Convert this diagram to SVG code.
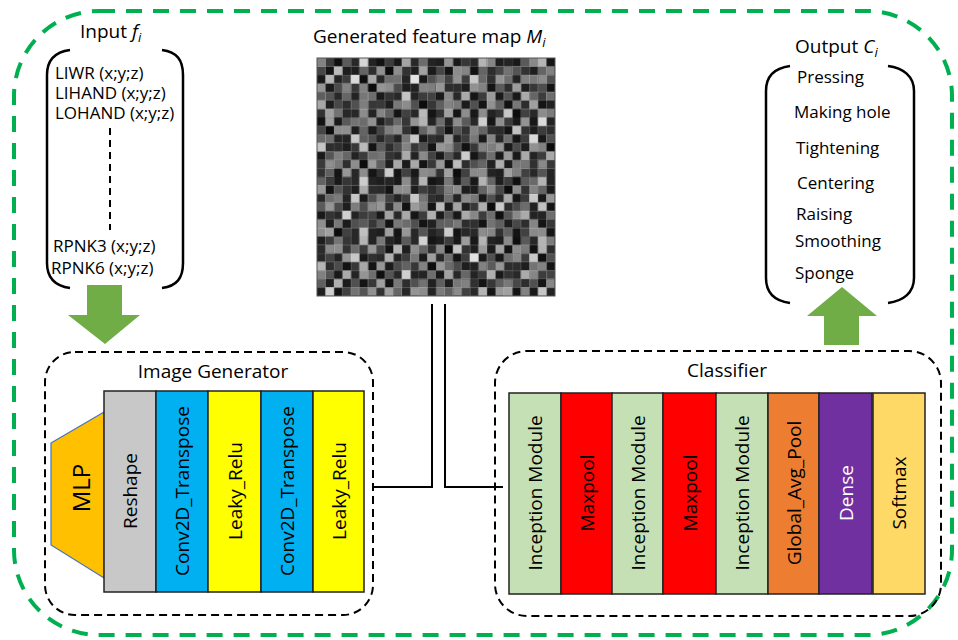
<svg xmlns="http://www.w3.org/2000/svg" width="958" height="640" viewBox="0 0 958 640">
<style>
text{font-family:"Open Sans","Noto Sans","Liberation Sans",sans-serif;fill:#000}
.t19{font-size:19px}
.t17{font-size:17px}
.blk{stroke:#222;stroke-width:1.5}
.vt{font-size:19px;text-anchor:middle;dominant-baseline:central}
.br{fill:none;stroke:#000;stroke-width:2.5}
.dbox{fill:none;stroke:#000;stroke-width:2;stroke-dasharray:8 5}
.arr{fill:#70ad47}
.conn{fill:none;stroke:#000;stroke-width:2}
</style>
<defs>
<pattern id="pA" patternUnits="userSpaceOnUse" x="317" y="58" width="59.5" height="59.5">
<rect x="0" y="0" width="8.5" height="8.5" fill="#1e1e1e"/><rect x="8.5" y="0" width="8.5" height="8.5" fill="#3c3c3c"/><rect x="17" y="0" width="8.5" height="8.5" fill="#191919"/><rect x="25.5" y="0" width="8.5" height="8.5" fill="#5a5a5a"/><rect x="34" y="0" width="8.5" height="8.5" fill="#282828"/><rect x="42.5" y="0" width="8.5" height="8.5" fill="#b4b4b4"/><rect x="51" y="0" width="8.5" height="8.5" fill="#232323"/>
<rect x="0" y="8.5" width="8.5" height="8.5" fill="#464646"/><rect x="8.5" y="8.5" width="8.5" height="8.5" fill="#141414"/><rect x="17" y="8.5" width="8.5" height="8.5" fill="#8c8c8c"/><rect x="25.5" y="8.5" width="8.5" height="8.5" fill="#323232"/><rect x="34" y="8.5" width="8.5" height="8.5" fill="#1e1e1e"/><rect x="42.5" y="8.5" width="8.5" height="8.5" fill="#646464"/><rect x="51" y="8.5" width="8.5" height="8.5" fill="#2d2d2d"/>
<rect x="0" y="17" width="8.5" height="8.5" fill="#282828"/><rect x="8.5" y="17" width="8.5" height="8.5" fill="#6e6e6e"/><rect x="17" y="17" width="8.5" height="8.5" fill="#232323"/><rect x="25.5" y="17" width="8.5" height="8.5" fill="#3c3c3c"/><rect x="34" y="17" width="8.5" height="8.5" fill="#c8c8c8"/><rect x="42.5" y="17" width="8.5" height="8.5" fill="#191919"/><rect x="51" y="17" width="8.5" height="8.5" fill="#505050"/>
<rect x="0" y="25.5" width="8.5" height="8.5" fill="#969696"/><rect x="8.5" y="25.5" width="8.5" height="8.5" fill="#2d2d2d"/><rect x="17" y="25.5" width="8.5" height="8.5" fill="#4b4b4b"/><rect x="25.5" y="25.5" width="8.5" height="8.5" fill="#1e1e1e"/><rect x="34" y="25.5" width="8.5" height="8.5" fill="#373737"/><rect x="42.5" y="25.5" width="8.5" height="8.5" fill="#828282"/><rect x="51" y="25.5" width="8.5" height="8.5" fill="#141414"/>
<rect x="0" y="34" width="8.5" height="8.5" fill="#191919"/><rect x="8.5" y="34" width="8.5" height="8.5" fill="#555555"/><rect x="17" y="34" width="8.5" height="8.5" fill="#282828"/><rect x="25.5" y="34" width="8.5" height="8.5" fill="#aaaaaa"/><rect x="34" y="34" width="8.5" height="8.5" fill="#232323"/><rect x="42.5" y="34" width="8.5" height="8.5" fill="#3c3c3c"/><rect x="51" y="34" width="8.5" height="8.5" fill="#6e6e6e"/>
<rect x="0" y="42.5" width="8.5" height="8.5" fill="#5f5f5f"/><rect x="8.5" y="42.5" width="8.5" height="8.5" fill="#1e1e1e"/><rect x="17" y="42.5" width="8.5" height="8.5" fill="#787878"/><rect x="25.5" y="42.5" width="8.5" height="8.5" fill="#2d2d2d"/><rect x="34" y="42.5" width="8.5" height="8.5" fill="#505050"/><rect x="42.5" y="42.5" width="8.5" height="8.5" fill="#141414"/><rect x="51" y="42.5" width="8.5" height="8.5" fill="#373737"/>
<rect x="0" y="51" width="8.5" height="8.5" fill="#323232"/><rect x="8.5" y="51" width="8.5" height="8.5" fill="#a0a0a0"/><rect x="17" y="51" width="8.5" height="8.5" fill="#141414"/><rect x="25.5" y="51" width="8.5" height="8.5" fill="#414141"/><rect x="34" y="51" width="8.5" height="8.5" fill="#282828"/><rect x="42.5" y="51" width="8.5" height="8.5" fill="#8c8c8c"/><rect x="51" y="51" width="8.5" height="8.5" fill="#232323"/>
</pattern>
<pattern id="pB" patternUnits="userSpaceOnUse" x="317" y="58" width="42.5" height="42.5">
<rect x="0" y="0" width="8.5" height="8.5" fill="#fff" opacity="0.45"/><rect x="17" y="0" width="8.5" height="8.5" fill="#000" opacity="0.4"/>
<rect x="17" y="8.5" width="8.5" height="8.5" fill="#fff" opacity="0.4"/><rect x="25.5" y="8.5" width="8.5" height="8.5" fill="#000" opacity="0.4"/>
<rect x="0" y="17" width="8.5" height="8.5" fill="#000" opacity="0.4"/><rect x="8.5" y="17" width="8.5" height="8.5" fill="#fff" opacity="0.5"/><rect x="34" y="17" width="8.5" height="8.5" fill="#fff" opacity="0.35"/>
<rect x="8.5" y="25.5" width="8.5" height="8.5" fill="#000" opacity="0.4"/><rect x="25.5" y="25.5" width="8.5" height="8.5" fill="#fff" opacity="0.45"/>
<rect x="0" y="34" width="8.5" height="8.5" fill="#fff" opacity="0.3"/><rect x="25.5" y="34" width="8.5" height="8.5" fill="#000" opacity="0.4"/>
</pattern>
</defs>

<rect x="14" y="11" width="938" height="624" rx="85" ry="85" fill="none" stroke="#00b050" stroke-width="4" stroke-dasharray="16 11"/>

<g id="input">
<text class="t19" x="80" y="38">Input <tspan font-style="italic">f</tspan><tspan font-style="italic" font-size="13" dy="4">i</tspan></text>
<path class="br" d="M70,50 C55,52 47,60 47,75 V263 C47,278 55,286 70,288"/>
<path class="br" d="M162,50 C177,52 183,60 183,75 V263 C183,278 177,286 162,288"/>
<text class="t17" x="55" y="79">LIWR (x;y;z)</text>
<text class="t17" x="55" y="99">LIHAND (x;y;z)</text>
<text class="t17" x="55" y="119">LOHAND (x;y;z)</text>
<line x1="110" y1="128" x2="110" y2="230" stroke="#000" stroke-width="2" stroke-dasharray="7 5"/>
<text class="t17" x="53" y="252">RPNK3 (x;y;z)</text>
<text class="t17" x="51" y="274">RPNK6 (x;y;z)</text>
</g>

<g id="arrow-down">
<polygon class="arr" points="87,285 122,285 122,315 140,315 105,344 68,315 87,315"/>
</g>

<g id="feature-map">
<text class="t19" x="313" y="43">Generated feature map <tspan font-style="italic">M</tspan><tspan font-style="italic" font-size="13" dy="4">i</tspan></text>
<rect x="317" y="58" width="238" height="238" fill="url(#pA)"/>
<rect x="317" y="58" width="238" height="238" fill="url(#pB)" stroke="#555" stroke-width="1"/>
</g>

<g id="output">
<text class="t19" x="795" y="53">Output <tspan font-style="italic">C</tspan><tspan font-style="italic" font-size="13" dy="4">i</tspan></text>
<path class="br" d="M790,66 C775,68 766,76 766,91 V278 C766,293 775,301 790,303"/>
<path class="br" d="M888,66 C903,68 914,76 914,91 V278 C914,293 903,301 888,303"/>
<text class="t17" x="797" y="83">Pressing</text>
<text class="t17" x="794" y="118">Making hole</text>
<text class="t17" x="796" y="154">Tightening</text>
<text class="t17" x="797" y="189">Centering</text>
<text class="t17" x="796" y="220">Raising</text>
<text class="t17" x="795" y="247">Smoothing</text>
<text class="t17" x="795" y="279">Sponge</text>
</g>

<g id="arrow-up">
<polygon class="arr" points="842,287 877,316 859,316 859,345 824,345 824,316 807,316"/>
</g>

<g id="image-generator">
<rect class="dbox" x="45" y="352" width="328" height="263" rx="30" ry="30"/>
<text class="t19" x="213" y="378" text-anchor="middle">Image Generator</text>
<polygon points="51,443 104,412 104,578 51,545" fill="#ffc000" stroke="#4472c4" stroke-width="1.2"/>
<text class="vt" font-size="24" transform="translate(80,488) rotate(-90)" style="font-size:24px">MLP</text>
<rect class="blk" x="104" y="391" width="52" height="201" fill="#c8c8c8"/>
<text class="vt" transform="translate(130,491) rotate(-90)">Reshape</text>
<rect class="blk" x="156" y="391" width="52" height="201" fill="#00b0f0"/>
<text class="vt" transform="translate(182,491) rotate(-90)">Conv2D_Transpose</text>
<rect class="blk" x="208" y="391" width="53" height="201" fill="#ffff00"/>
<text class="vt" transform="translate(234.5,491) rotate(-90)">Leaky_Relu</text>
<rect class="blk" x="261" y="391" width="52" height="201" fill="#00b0f0"/>
<text class="vt" transform="translate(287,491) rotate(-90)">Conv2D_Transpose</text>
<rect class="blk" x="313" y="391" width="51" height="201" fill="#ffff00"/>
<text class="vt" transform="translate(338.5,491) rotate(-90)">Leaky_Relu</text>
</g>

<g id="classifier">
<rect class="dbox" x="495" y="351" width="446" height="265" rx="32" ry="32"/>
<text class="t19" x="727" y="377" text-anchor="middle">Classifier</text>
<rect class="blk" x="509" y="393" width="52" height="201" fill="#c5e0b4"/>
<text class="vt" transform="translate(535,493) rotate(-90)">Inception Module</text>
<rect class="blk" x="561" y="393" width="51" height="201" fill="#ff0000"/>
<text class="vt" transform="translate(586.5,493) rotate(-90)">Maxpool</text>
<rect class="blk" x="612" y="393" width="51" height="201" fill="#c5e0b4"/>
<text class="vt" transform="translate(637.5,493) rotate(-90)">Inception Module</text>
<rect class="blk" x="663" y="393" width="53" height="201" fill="#ff0000"/>
<text class="vt" transform="translate(689.5,493) rotate(-90)">Maxpool</text>
<rect class="blk" x="716" y="393" width="52" height="201" fill="#c5e0b4"/>
<text class="vt" transform="translate(742,493) rotate(-90)">Inception Module</text>
<rect class="blk" x="768" y="393" width="51" height="201" fill="#ed7d31"/>
<text class="vt" transform="translate(793.5,493) rotate(-90)">Global_Avg_Pool</text>
<rect class="blk" x="819" y="393" width="53" height="201" fill="#7030a0"/>
<text class="vt" transform="translate(845.5,493) rotate(-90)" style="fill:#fff">Dense</text>
<rect class="blk" x="873" y="393" width="52" height="201" fill="#ffd966"/>
<text class="vt" transform="translate(899,493) rotate(-90)">Softmax</text>
</g>

<g id="connectors">
<polyline class="conn" points="373,487 432,487 432,304"/>
<polyline class="conn" points="445,304 445,487 503,487"/>
</g>
</svg>
